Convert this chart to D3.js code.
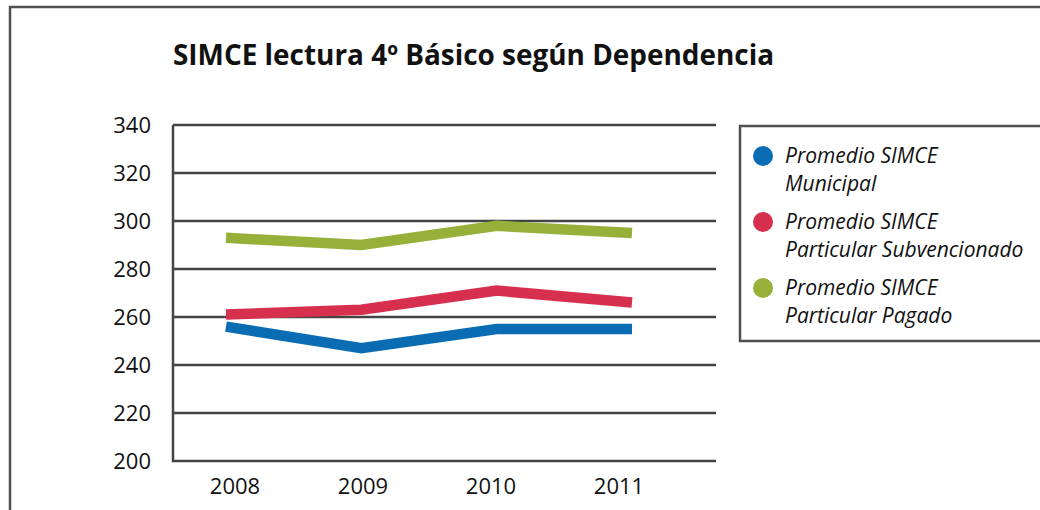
<!DOCTYPE html>
<html>
<head>
<meta charset="utf-8">
<script src="https://cdn.jsdelivr.net/npm/d3@7"></script>
<style>
  html, body { margin: 0; padding: 0; background: #fff; }
  svg { display: block; }
</style>
</head>
<body>
<svg id="chart" width="1040" height="510"></svg>
<script>
const years = ["2008", "2009", "2010", "2011"];
const municipal = [256, 247, 255, 255];
const subvencionado = [261, 263, 271, 266];
const pagado = [293, 290, 298, 295];
const yTicks = [200, 220, 240, 260, 280, 300, 320, 340];
const seriesNames = [
  ["Promedio SIMCE", "Municipal"],
  ["Promedio SIMCE", "Particular Subvencionado"],
  ["Promedio SIMCE", "Particular Pagado"]
];
const seriesColors = ["#0a6db4", "#d72f4e", "#97b03a"];
const seriesValues = [municipal, subvencionado, pagado];
const title = "SIMCE lectura 4º Básico según Dependencia";

const svg = d3.select("#chart");
const font = "'Open Sans', sans-serif";
const frameColor = "#505050";

// outer frame (top & left edges)
svg.append("path")
  .attr("d", "M10,510 L10,7 L1040,7")
  .attr("fill", "none").attr("stroke", frameColor).attr("stroke-width", 2.5);

// title
const t = svg.append("text")
  .attr("x", 173).attr("y", 65)
  .attr("font-family", font).attr("font-weight", 700)
  .attr("font-size", 28).attr("fill", "#111")
  .text(title);
const tw = t.node().getComputedTextLength();
if (tw > 0) t.attr("textLength", 601).attr("lengthAdjust", "spacingAndGlyphs");

// scales
const y = d3.scaleLinear().domain([200, 340]).range([461, 125]);
const xLine = d3.scalePoint().domain(years).range([226, 632]);
const xLabel = d3.scalePoint().domain(years).range([235, 619]);
const plotLeft = 173, plotRight = 716;

// grid
const gridG = svg.append("g");
gridG.selectAll("line").data(yTicks.filter(d => d > 200)).join("line")
  .attr("x1", plotLeft).attr("x2", plotRight)
  .attr("y1", d => y(d)).attr("y2", d => y(d))
  .attr("stroke", "#444").attr("stroke-width", 2.5);

// y axis labels
svg.append("g").selectAll("text").data(yTicks).join("text")
  .attr("x", 151).attr("y", d => y(d) + 8)
  .attr("text-anchor", "end")
  .attr("font-family", font).attr("font-size", 22).attr("fill", "#111")
  .text(d => d);

// x axis labels
svg.append("g").selectAll("text").data(years).join("text")
  .attr("x", d => xLabel(d)).attr("y", 494)
  .attr("text-anchor", "middle")
  .attr("font-family", font).attr("font-size", 22).attr("fill", "#111")
  .text(d => d);

// lines
const line = d3.line().x((d, i) => xLine(years[i])).y(d => y(d));
svg.append("g").selectAll("path").data(seriesValues).join("path")
  .attr("d", d => line(d))
  .attr("fill", "none")
  .attr("stroke", (d, i) => seriesColors[i])
  .attr("stroke-width", 10.5)
  .attr("stroke-linejoin", "miter")
  .attr("stroke-linecap", "butt");

// axis frame (left + bottom), drawn on top
svg.append("path")
  .attr("d", `M${plotLeft},${y(340)} L${plotLeft},${y(200)} L${plotRight},${y(200)}`)
  .attr("fill", "none").attr("stroke", "#444").attr("stroke-width", 2.5);

// legend
svg.append("path")
  .attr("d", "M1042,126 L740,126 L740,341 L1042,341")
  .attr("fill", "none").attr("stroke", frameColor).attr("stroke-width", 2.5);

const lg = svg.append("g").selectAll("g").data(seriesNames).join("g")
  .attr("transform", (d, i) => `translate(763, ${156 + i * 66})`);
lg.append("circle").attr("r", 10).attr("fill", (d, i) => seriesColors[i]);
lg.append("text").attr("x", 22).attr("y", 7)
  .attr("font-family", font).attr("font-style", "italic")
  .attr("font-size", 21).attr("fill", "#111")
  .text(d => d[0]);
lg.append("text").attr("x", 22).attr("y", 35)
  .attr("font-family", font).attr("font-style", "italic")
  .attr("font-size", 21).attr("fill", "#111")
  .text(d => d[1]);
</script>
</body>
</html>
